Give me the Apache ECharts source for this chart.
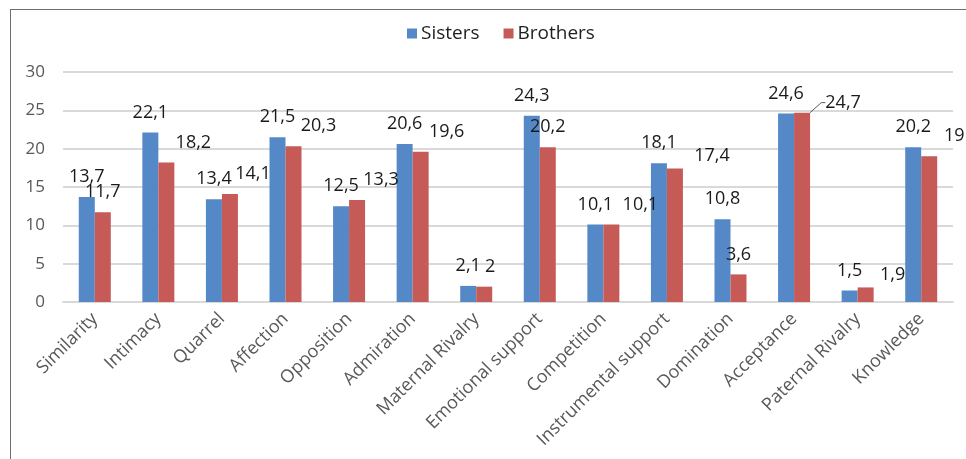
<!DOCTYPE html>
<html>
<head>
<meta charset="utf-8">
<script src="https://cdn.jsdelivr.net/npm/echarts@6/dist/echarts.min.js"></script>
<style>
  html, body { margin: 0; padding: 0; background: #fff; }
  #main { position: absolute; left: 0; top: 0; width: 966px; height: 459px; }
  #frame { position: absolute; left: 10px; top: 9px; width: 970px; height: 470px;
           border-left: 1px solid #6e6e6e; border-top: 1px solid #6e6e6e; pointer-events: none; }
</style>
</head>
<body>
<div id="main"></div>
<div id="frame"></div>
<script>
const categories = ['Similarity', 'Intimacy', 'Quarrel', 'Affection', 'Opposition', 'Admiration',
  'Maternal Rivalry', 'Emotional support', 'Competition', 'Instrumental support', 'Domination',
  'Acceptance', 'Paternal Rivalry', 'Knowledge']
const sisters = [13.7, 22.1, 13.4, 21.5, 12.5, 20.6, 2.1, 24.3, 10.1, 18.1, 10.8, 24.6, 1.5, 20.2]
const brothers = [11.7, 18.2, 14.1, 20.3, 13.3, 19.6, 2, 20.2, 10.1, 17.4, 3.6, 24.7, 1.9, 19]
const yTicks = { min: 0, max: 30, interval: 5 }

// excel moved some of the brothers labels sideways, copy that
const brotherLabelDx = [0, 27, 23, 25, 24, 26, 6, 0, 29, 37, 0, 41, 27, 25]
const brotherLabelDy = [0, 0, 0, 0, 0, 0, 0, 0, 0, 7, 0, 10, 7, 0]

const font = 'Open Sans'
const comma = (p) => String(p.value).replace('.', ',')

let myChart = echarts.init(document.getElementById('main'))

let option = {
  animation: false,
  legend: {
    top: 19,
    left: 402,
    itemWidth: 10,
    itemHeight: 10,
    itemGap: 24,
    icon: 'rect',
    textStyle: { fontFamily: font, fontSize: 19, color: '#1f1f1f', padding: [0, 0, 0, -1] },
    data: ['Sisters', 'Brothers'],
  },
  grid: { left: 63, right: 13, top: 72, bottom: 157 },
  xAxis: {
    type: 'category',
    data: categories,
    axisLine: { show: true, lineStyle: { color: '#d9d9d9', width: 2 } },
    axisTick: { show: false },
    axisLabel: {
      rotate: 45,
      interval: 0,
      margin: 14,
      fontFamily: font,
      fontSize: 18,
      color: '#595959',
    },
  },
  yAxis: {
    type: 'value',
    min: yTicks.min,
    max: yTicks.max,
    interval: yTicks.interval,
    axisLine: { show: false },
    axisTick: { show: false },
    axisLabel: { fontFamily: font, fontSize: 17, color: '#595959', margin: 18 },
    splitLine: { lineStyle: { color: '#d9d9d9', width: 2 } },
  },
  series: [
    {
      name: 'Sisters',
      type: 'bar',
      barWidth: 16,
      barGap: '0%',
      itemStyle: { color: '#5588c6' },
      label: {
        show: true,
        position: 'top',
        distance: 11,
        fontFamily: font,
        fontSize: 18,
        color: '#1a1a1a',
        formatter: comma,
      },
      data: sisters,
    },
    {
      name: 'Brothers',
      type: 'bar',
      barWidth: 16,
      itemStyle: { color: '#c65a57' },
      label: {
        show: true,
        position: 'top',
        distance: 11,
        fontFamily: font,
        fontSize: 18,
        color: '#1a1a1a',
        formatter: comma,
      },
      labelLine: { show: false },
      data: brothers.map((v, i) =>
        categories[i] === 'Acceptance'
          ? { value: v, labelLine: { show: true, length2: 4, lineStyle: { color: '#595959', width: 1 } } }
          : v
      ),
    },
  ],
  labelLayout: function (params) {
    if (params.seriesIndex !== 1) return {}
    return { dx: brotherLabelDx[params.dataIndex], dy: brotherLabelDy[params.dataIndex] }
  },
}

myChart.setOption(option)
</script>
</body>
</html>
